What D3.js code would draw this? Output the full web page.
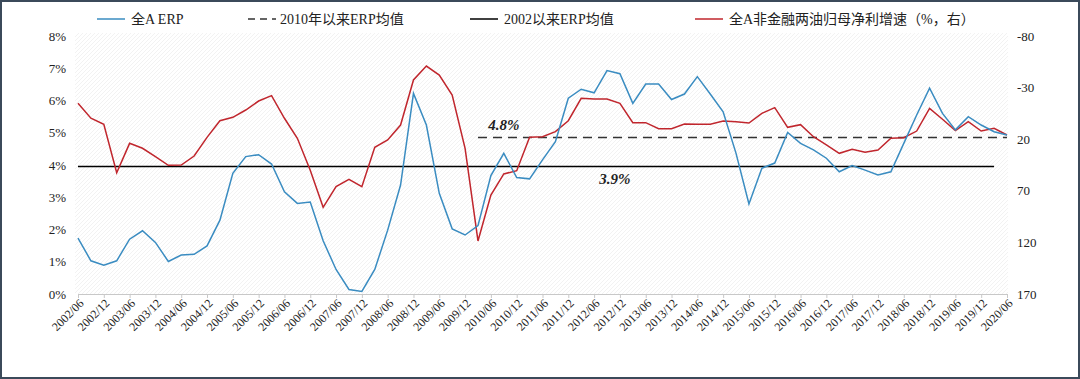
<!DOCTYPE html>
<html>
<head>
<meta charset="utf-8">
<script src="https://cdn.jsdelivr.net/npm/d3@7"></script>
<style>
  body { margin: 0; background: #fff; }
  text { font-family: "Liberation Serif", "Times New Roman", "Noto Sans CJK SC", serif; fill: #222; }
</style>
</head>
<body>
<div id="chart"></div>
<script>
/***** data *****/
var quarters = [
  "2002/06","2002/09","2002/12","2003/03","2003/06","2003/09","2003/12","2004/03",
  "2004/06","2004/09","2004/12","2005/03","2005/06","2005/09","2005/12","2006/03",
  "2006/06","2006/09","2006/12","2007/03","2007/06","2007/09","2007/12","2008/03",
  "2008/06","2008/09","2008/12","2009/03","2009/06","2009/09","2009/12","2010/03",
  "2010/06","2010/09","2010/12","2011/03","2011/06","2011/09","2011/12","2012/03",
  "2012/06","2012/09","2012/12","2013/03","2013/06","2013/09","2013/12","2014/03",
  "2014/06","2014/09","2014/12","2015/03","2015/06","2015/09","2015/12","2016/03",
  "2016/06","2016/09","2016/12","2017/03","2017/06","2017/09","2017/12","2018/03",
  "2018/06","2018/09","2018/12","2019/03","2019/06","2019/09","2019/12","2020/03",
  "2020/06"
];

// 全A ERP (%)
var erp = [
  1.73, 1.03, 0.89, 1.03, 1.70, 1.96, 1.60, 1.01, 1.21, 1.23, 1.49, 2.29, 3.74,
  4.26, 4.32, 4.03, 3.17, 2.81, 2.85, 1.65, 0.76, 0.14, 0.08, 0.76, 1.98, 3.38,
  6.22, 5.24, 3.12, 2.02, 1.83, 2.12, 3.67, 4.36, 3.61, 3.57, 4.16, 4.72, 6.07,
  6.35, 6.24, 6.93, 6.83, 5.91, 6.51, 6.51, 6.03, 6.20, 6.74, 6.20, 5.65, 4.36,
  2.79, 3.90, 4.06, 5.01, 4.67, 4.47, 4.21, 3.79, 3.98, 3.84, 3.69, 3.79, 4.67,
  5.55, 6.38, 5.60, 5.09, 5.50, 5.24, 5.03, 4.93
];

// 全A非金融两油归母净利增速 (%, right axis, inverted)
var profitGrowth = [
  -14.8, -0.3, 5.6, 52.5, 24.0, 28.8, 37.0, 45.3, 45.0, 36.3, 18.2, 2.1, -1.2,
  -8.3, -17.0, -22.2, -0.3, 19.1, 50.0, 86.0, 66.0, 58.9, 66.0, 27.9, 20.8, 6.3,
  -37.4, -50.9, -42.2, -22.8, 28.8, 118.6, 74.1, 53.7, 50.5, 18.2, 17.6, 12.7, 2.1,
  -19.6, -19.0, -19.0, -14.8, 4.0, 4.0, 9.8, 9.8, 5.3, 5.5, 5.5, 2.4, 3.1,
  4.3, -5.1, -10.6, 8.5, 5.9, 17.6, 25.6, 33.7, 29.8, 32.7, 30.5, 19.1, 18.5,
  12.1, -9.9, 0.7, 11.7, 3.0, 12.1, 9.5, 15.9
];

// mean lines
var avgSince2002 = 3.95, avgSince2002Range = ["2002/06", "2020/03"], avgSince2002Label = "3.9%";
var avgSince2010 = 4.85, avgSince2010Range = ["2010/03", "2020/06"], avgSince2010Label = "4.8%";

// tick labels
var leftTicks = [0, 1, 2, 3, 4, 5, 6, 7, 8];
var rightTicks = [-80, -30, 20, 70, 120, 170];
var xTickLabels = quarters.filter(function(q){ return q.slice(5) == "06" || q.slice(5) == "12"; });

var legendNames = ["全A ERP", "2010年以来ERP均值", "2002以来ERP均值", "全A非金融两油归母净利增速（%，右）"];

/***** chart *****/
var W = 1080, H = 379;
var margin = {top: 36, right: 73, bottom: 85, left: 78};
var plotW = W - margin.left - margin.right;
var plotH = H - margin.top - margin.bottom;

var svg = d3.select("#chart").append("svg")
  .attr("width", W).attr("height", H);

// hatch background
var defs = svg.append("defs");
var pat = defs.append("pattern")
  .attr("id", "hatch")
  .attr("patternUnits", "userSpaceOnUse")
  .attr("width", 4).attr("height", 4);
pat.append("path")
  .attr("d", "M-1,1 l2,-2 M0,4 l4,-4 M3,5 l2,-2")
  .attr("stroke", "#ececec").attr("stroke-width", 0.7);

svg.append("rect")
  .attr("x", 1).attr("y", 1).attr("width", W - 2).attr("height", H - 2)
  .attr("fill", "#fff").attr("stroke", "#3b4a5a").attr("stroke-width", 2);

svg.append("rect")
  .attr("x", 75).attr("y", 33).attr("width", 933).attr("height", 261)
  .attr("fill", "url(#hatch)");

var g = svg.append("g").attr("transform", "translate(" + margin.left + "," + margin.top + ")");

//scales
var x = d3.scalePoint().domain(quarters).range([0, plotW]);
var yL = d3.scaleLinear().domain([0, 8]).range([plotH, 0]);
var yR = d3.scaleLinear().domain([-80, 170]).range([0, plotH]);

//axes
var xAxis = d3.axisBottom(x)
  .tickValues(xTickLabels)
  .tickSize(4)
  .tickFormat("");
var gx = g.append("g")
  .attr("transform", "translate(0," + plotH + ")")
  .call(xAxis);
gx.select(".domain").attr("stroke", "#c8c8c8");
gx.selectAll(".tick line").attr("stroke", "#c8c8c8");
gx.selectAll(".tick").append("text")
  .attr("transform", "translate(3,7) rotate(-45)")
  .attr("text-anchor", "end")
  .attr("dy", "0.35em")
  .style("font-size", "12px")
  .text(function(d){ return d; });

var yAxisL = d3.axisLeft(yL)
  .tickValues(leftTicks)
  .tickSize(0)
  .tickPadding(12)
  .tickFormat(function(d){ return d + "%"; });
var gyl = g.append("g").call(yAxisL);
gyl.select(".domain").remove();
gyl.selectAll("text").style("font-size", "13px").style("font-family", null);

var yAxisR = d3.axisRight(yR)
  .tickValues(rightTicks)
  .tickSize(0)
  .tickPadding(10)
  .tickFormat(function(d){ return String(d); });
var gyr = g.append("g").attr("transform", "translate(" + plotW + ",0)").call(yAxisR);
gyr.select(".domain").remove();
gyr.selectAll("text").style("font-size", "13px").style("font-family", null);

//mean lines
g.append("line")
  .attr("x1", x(avgSince2002Range[0])).attr("x2", x(avgSince2002Range[1]))
  .attr("y1", yL(avgSince2002)).attr("y2", yL(avgSince2002))
  .attr("stroke", "#000").attr("stroke-width", 1.5);
g.append("line")
  .attr("x1", x(avgSince2010Range[0])).attr("x2", x(avgSince2010Range[1]))
  .attr("y1", yL(avgSince2010)).attr("y2", yL(avgSince2010))
  .attr("stroke", "#333").attr("stroke-width", 1.5)
  .attr("stroke-dasharray", "9,6");

//series lines
var lineL = d3.line()
  .x(function(d, i){ return x(quarters[i]); })
  .y(function(d){ return yL(d); });
var lineR = d3.line()
  .x(function(d, i){ return x(quarters[i]); })
  .y(function(d){ return yR(d); });

g.append("path").datum(profitGrowth)
  .attr("d", lineR)
  .attr("fill", "none").attr("stroke", "#c0262d").attr("stroke-width", 1.5);
g.append("path").datum(erp)
  .attr("d", lineL)
  .attr("fill", "none").attr("stroke", "#3a8cc1").attr("stroke-width", 1.5);

//annotations
g.append("text")
  .attr("x", x("2010/06") + 13).attr("y", yL(avgSince2010) - 8)
  .attr("text-anchor", "middle")
  .style("font-size", "15px").style("font-weight", "bold").style("font-style", "italic")
  .text(avgSince2010Label);
g.append("text")
  .attr("x", x("2012/12") - 5).attr("y", yL(avgSince2002) + 17)
  .attr("text-anchor", "middle")
  .style("font-size", "15px").style("font-weight", "bold").style("font-style", "italic")
  .text(avgSince2002Label);

//legend
var legend = [
  {name: legendNames[0], x: 97, color: "#3a8cc1", dash: null},
  {name: legendNames[1], x: 248, color: "#333", dash: "7,5"},
  {name: legendNames[2], x: 470, color: "#000", dash: null},
  {name: legendNames[3], x: 695, color: "#c0262d", dash: null}
];
var lg = svg.selectAll(".legend").data(legend).enter().append("g")
  .attr("class", "legend")
  .attr("transform", function(d){ return "translate(" + d.x + ",19)"; });
lg.append("line")
  .attr("x1", 0).attr("x2", 28)
  .attr("stroke", function(d){ return d.color; })
  .attr("stroke-width", 1.5)
  .attr("stroke-dasharray", function(d){ return d.dash; });
lg.append("text")
  .attr("x", function(d){ return d.dash ? 32 : 34; })
  .attr("dy", "0.35em")
  .style("font-size", "14px")
  .text(function(d){ return d.name; });
</script>
</body>
</html>
